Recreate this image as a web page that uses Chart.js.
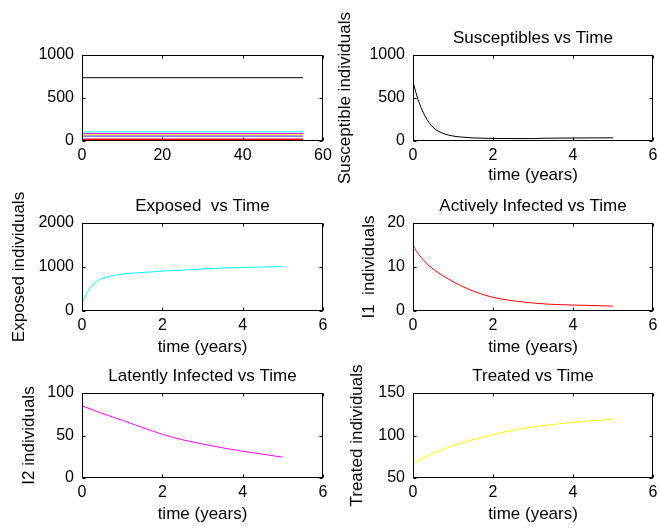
<!DOCTYPE html>
<html>
<head>
<meta charset="utf-8">
<script src="https://cdn.jsdelivr.net/npm/chart.js@4/dist/chart.umd.min.js"></script>
<style>
  html, body { margin: 0; padding: 0; background: #fff; }
  body { width: 659px; height: 532px; position: relative; overflow: hidden; }
  canvas { position: absolute; }
</style>
</head>
<body>
<canvas id="overview"></canvas>
<canvas id="susceptible"></canvas>
<canvas id="exposed"></canvas>
<canvas id="active"></canvas>
<canvas id="latent"></canvas>
<canvas id="treated"></canvas>
<script>
// --- long run (0..55) constant levels -------------------------------------
const overviewTime = [0, 55];
const overviewBlack = [736, 736];
const overviewCyan = [106, 106];
const overviewMagenta = [87, 87];
const overviewYellow = [72, 72];
const overviewBlue = [58, 58];
const overviewRed = [17, 17];

// --- compartments over 5 years --------------------------------------------
const susTime = [0, 0.1, 0.2, 0.3, 0.4, 0.5, 0.6, 0.8, 1, 1.2, 1.5, 2, 2.5, 3, 3.25, 3.5, 4, 4.5, 5];
const susCount = [690, 520, 390, 290, 215, 160, 122, 80, 58, 46, 36, 30, 28, 28, 32, 33, 35, 36, 37];

const expTime = [0, 0.1, 0.2, 0.3, 0.4, 0.5, 0.7, 1, 1.5, 2, 2.5, 3, 3.5, 4, 4.5, 5];
const expCount = [170, 370, 520, 620, 690, 735, 790, 840, 875, 905, 930, 955, 975, 990, 1000, 1010];

const i1Time = [0, 0.1, 0.25, 0.4, 0.65, 0.9, 1.23, 1.57, 2, 2.4, 2.9, 3.4, 4, 4.5, 5];
const i1Count = [15, 13.4, 11.7, 10.3, 8.6, 7.2, 5.6, 4.3, 3.1, 2.45, 1.9, 1.55, 1.35, 1.25, 1.1];

const halfYearTime = [0, 0.5, 1, 1.5, 2, 2.5, 3, 3.5, 4, 4.5, 5];
const i2Count = [85, 76, 68, 59.5, 51.5, 45, 40, 35.5, 31.5, 28, 24.5];
const treatedCount = [67, 79, 88, 95, 101, 106, 110, 113, 115.5, 117.5, 119];

// tick settings per axis
const longTicks = [0, 20, 40, 60];
const yearTicks = [0, 2, 4, 6];

const FONT = 'Liberation Sans, Arial, Helvetica, sans-serif';
const SIDE_W = 80;   // room left (and right, to keep the title centred) of the plot box
const AXIS_H = 50;   // room under the plot box
const TITLE_H = 55;  // room above the plot box

// plot box with inward ticks on all four sides
const matlabBox = {
  id: 'matlabBox',
  afterDatasetsDraw(chart) {
    const { ctx, chartArea: a, scales: { x, y } } = chart;
    const l = Math.round(a.left) + 0.5, r = Math.round(a.right) - 0.5;
    const t = Math.round(a.top) + 0.5, b = Math.round(a.bottom) - 0.5;
    ctx.save();
    ctx.strokeStyle = '#000';
    ctx.lineWidth = 1;
    ctx.strokeRect(l, t, r - l, b - t);
    ctx.beginPath();
    x.ticks.forEach(tk => {
      const px = Math.round(x.getPixelForValue(tk.value)) + 0.5;
      ctx.moveTo(px, b); ctx.lineTo(px, b - 3);
      ctx.moveTo(px, t); ctx.lineTo(px, t + 3);
    });
    y.ticks.forEach(tk => {
      const py = Math.round(y.getPixelForValue(tk.value)) + 0.5;
      ctx.moveTo(l, py); ctx.lineTo(l + 3, py);
      ctx.moveTo(r, py); ctx.lineTo(r - 3, py);
    });
    ctx.stroke();
    ctx.restore();
  }
};

function series(xs, ys, color, width) {
  return {
    data: xs.map((v, i) => ({ x: v, y: ys[i] })),
    borderColor: color,
    borderWidth: width || 1,
    pointRadius: 0,
    cubicInterpolationMode: 'monotone',
    fill: false
  };
}

function panel(id, box, cfg) {
  const canvas = document.getElementById(id);
  canvas.width = box.right - box.left + 2 * SIDE_W;
  canvas.height = box.bottom - box.top + TITLE_H + AXIS_H;
  canvas.style.left = (box.left - SIDE_W) + 'px';
  canvas.style.top = (box.top - TITLE_H) + 'px';

  const tickFont = { family: FONT, size: 16 };
  const labelFont = { family: FONT, size: 17 };

  return new Chart(canvas, {
    type: 'line',
    data: { datasets: cfg.datasets },
    options: {
      responsive: false,
      animation: false,
      devicePixelRatio: 1,
      layout: { padding: { top: cfg.title ? 0 : TITLE_H, right: 0, left: 0, bottom: 0 } },
      plugins: {
        legend: { display: false },
        tooltip: { enabled: false },
        title: {
          display: !!cfg.title,
          text: cfg.title || '',
          color: '#000',
          font: { ...labelFont, weight: 'normal' },
          padding: { top: TITLE_H - 20.4 - 6.8, bottom: 6.8 }
        }
      },
      scales: {
        x: {
          type: 'linear',
          min: cfg.xTicks[0],
          max: cfg.xTicks[cfg.xTicks.length - 1],
          afterBuildTicks: s => { s.ticks = cfg.xTicks.map(v => ({ value: v })); },
          afterFit: s => { s.height = AXIS_H; },
          grid: { display: false, drawTicks: false },
          border: { display: false },
          ticks: { color: '#000', font: tickFont, padding: 5, maxRotation: 0, callback: v => String(v) },
          title: {
            display: !!cfg.xTitle,
            text: cfg.xTitle || '',
            color: '#000',
            font: labelFont,
            padding: { top: 0, bottom: cfg.xTitlePad || 3.8 }
          }
        },
        y: {
          min: cfg.yTicks[0],
          max: cfg.yTicks[cfg.yTicks.length - 1],
          afterBuildTicks: s => { s.ticks = cfg.yTicks.map(v => ({ value: v })); },
          afterFit: s => { s.width = SIDE_W; },
          grid: { display: false, drawTicks: false },
          border: { display: false },
          ticks: { color: '#000', font: tickFont, padding: 8, callback: v => String(v) },
          title: {
            display: !!cfg.yTitle,
            text: cfg.yTitle || '',
            color: '#000',
            font: labelFont,
            padding: { top: cfg.yTitlePad || 0, bottom: 0 }
          }
        },
        // empty right-hand axis, only there to balance the left one
        spacer: {
          position: 'right',
          display: true,
          afterFit: s => { s.width = SIDE_W; },
          grid: { display: false, drawTicks: false },
          border: { display: false },
          ticks: { display: false }
        }
      }
    },
    plugins: [matlabBox]
  });
}

panel('overview', { left: 82, right: 323, top: 55, bottom: 141 }, {
  xTicks: longTicks,
  yTicks: [0, 500, 1000],
  datasets: [
    series(overviewTime, overviewBlack, '#000000'),
    series(overviewTime, overviewCyan, '#00ffff'),
    series(overviewTime, overviewMagenta, '#ff00ff'),
    series(overviewTime, overviewYellow, '#ffff00'),
    series(overviewTime, overviewBlue, '#0000ff'),
    series(overviewTime, overviewRed, '#ff0000', 2)
  ]
});

panel('susceptible', { left: 413, right: 653, top: 55, bottom: 141 }, {
  title: 'Susceptibles vs Time',
  xTitle: 'time (years)', xTitlePad: 5.8,
  yTitle: 'Susceptible individuals', yTitlePad: 1.8,
  xTicks: yearTicks,
  yTicks: [0, 500, 1000],
  datasets: [series(susTime, susCount, '#000000')]
});

panel('exposed', { left: 82, right: 323, top: 223, bottom: 311 }, {
  title: 'Exposed  vs Time',
  xTitle: 'time (years)',
  yTitle: 'Exposed individuals', yTitlePad: 6.8,
  xTicks: yearTicks,
  yTicks: [0, 1000, 2000],
  datasets: [series(expTime, expCount, '#00ffff')]
});

panel('active', { left: 413, right: 653, top: 223, bottom: 311 }, {
  title: 'Actively Infected vs Time',
  xTitle: 'time (years)',
  yTitle: 'I1  individuals', yTitlePad: 25.8,
  xTicks: yearTicks,
  yTicks: [0, 10, 20],
  datasets: [series(i1Time, i1Count, '#ff0000')]
});

panel('latent', { left: 82, right: 323, top: 393, bottom: 478 }, {
  title: 'Latently Infected vs Time',
  xTitle: 'time (years)',
  yTitle: 'I2 individuals', yTitlePad: 16.8,
  xTicks: yearTicks,
  yTicks: [0, 50, 100],
  datasets: [series(halfYearTime, i2Count, '#ff00ff')]
});

panel('treated', { left: 413, right: 653, top: 393, bottom: 478 }, {
  title: 'Treated vs Time',
  xTitle: 'time (years)',
  yTitle: 'Treated individuals', yTitlePad: 14.3,
  xTicks: yearTicks,
  yTicks: [50, 100, 150],
  datasets: [series(halfYearTime, treatedCount, '#ffff00')]
});
</script>
</body>
</html>
